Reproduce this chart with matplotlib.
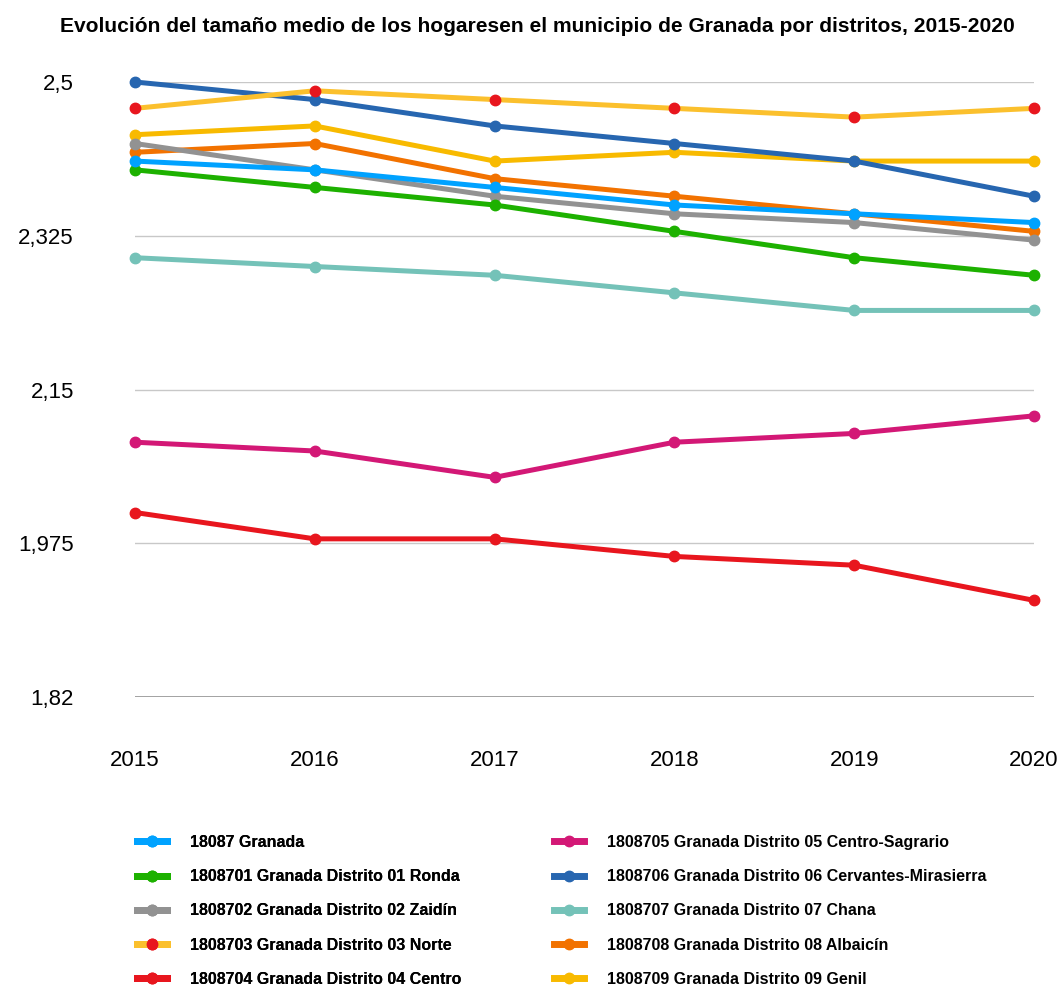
import matplotlib
matplotlib.use("Agg")
import matplotlib.pyplot as plt
from matplotlib.lines import Line2D

plt.rcParams['font.family'] = ['Liberation Sans', 'DejaVu Sans']

# datos: tamaño medio del hogar por distrito
years = [2015, 2016, 2017, 2018, 2019, 2020]

series_names = [
    "18087 Granada",
    "1808701 Granada Distrito 01 Ronda",
    "1808702 Granada Distrito 02 Zaidín",
    "1808703 Granada Distrito 03 Norte",
    "1808704 Granada Distrito 04 Centro",
    "1808705 Granada Distrito 05 Centro-Sagrario",
    "1808706 Granada Distrito 06 Cervantes-Mirasierra",
    "1808707 Granada Distrito 07 Chana",
    "1808708 Granada Distrito 08 Albaicín",
    "1808709 Granada Distrito 09 Genil",
]

granada = [2.41, 2.40, 2.38, 2.36, 2.35, 2.34]
ronda = [2.40, 2.38, 2.36, 2.33, 2.30, 2.28]
zaidin = [2.43, 2.40, 2.37, 2.35, 2.34, 2.32]
norte = [2.47, 2.49, 2.48, 2.47, 2.46, 2.47]
centro = [2.01, 1.98, 1.98, 1.96, 1.95, 1.91]
centro_sagrario = [2.09, 2.08, 2.05, 2.09, 2.10, 2.12]
cervantes = [2.50, 2.48, 2.45, 2.43, 2.41, 2.37]
chana = [2.30, 2.29, 2.28, 2.26, 2.24, 2.24]
albaicin = [2.42, 2.43, 2.39, 2.37, 2.35, 2.33]
genil = [2.44, 2.45, 2.41, 2.42, 2.41, 2.41]

y_ticks = [1.8, 1.975, 2.15, 2.325, 2.5]
y_tick_labels = ["1,82", "1,975", "2,15", "2,325", "2,5"]

# colores (linea, marcador)
line_colors = ["#00A2FF", "#1DB100", "#929292", "#FBC02D", "#E8161E",
               "#D31876", "#2766B0", "#74C2B8", "#F27200", "#F8BA00"]
marker_colors = ["#00A2FF", "#1DB100", "#929292", "#E8161E", "#E8161E",
                 "#D31876", "#2766B0", "#74C2B8", "#F27200", "#F8BA00"]

all_values = [granada, ronda, zaidin, norte, centro, centro_sagrario,
              cervantes, chana, albaicin, genil]

W, H = 1062, 989
fig = plt.figure(figsize=(W / 100, H / 100), dpi=100)
ax = fig.add_axes([135 / W, 1 - 697 / H, (1034 - 135) / W, (697 - 82) / H])

for i, vals in enumerate(all_values):
    ax.plot(years, vals, color=line_colors[i], lw=3.6, marker='o', ms=7.5,
            mfc=marker_colors[i], mec=marker_colors[i], clip_on=False,
            zorder=20 - i, solid_capstyle='round')

ax.set_xlim(2015, 2020)
ax.set_ylim(1.8, 2.5)
ax.set_yticks(y_ticks)
ax.set_yticklabels(y_tick_labels)
ax.set_xticks(years)
ax.set_xticklabels([str(y) for y in years])
ax.tick_params(axis='y', length=0, pad=44, labelsize=16)
ax.tick_params(axis='x', length=0, pad=38, labelsize=16)

for s in ax.spines.values():
    s.set_visible(False)
for yt in y_ticks[1:]:
    ax.axhline(yt, color="#C8C8C8", lw=1.0, zorder=1)
ax.axhline(y_ticks[0], color="#999999", lw=2.0, zorder=1)

fig.text(537 / W, 1 - 27 / H,
         "Evolución del tamaño medio de los hogaresen el municipio de Granada por distritos, 2015-2020",
         ha='center', va='center', fontsize=15.1, fontweight='bold')

# leyenda en dos columnas
handles = [Line2D([0], [0], color=line_colors[i], lw=5, marker='o', ms=7.5,
                  mfc=marker_colors[i], mec=marker_colors[i])
           for i in range(len(series_names))]
leg_kw = dict(frameon=False, borderpad=0, borderaxespad=0, handlelength=1.9,
              handletextpad=1.4, labelspacing=1.2,
              prop={'weight': 'bold', 'size': 11.5})
leg1 = fig.legend(handles[:5], series_names[:5], loc='upper left',
                  bbox_to_anchor=(137 / W, 1 - 835 / H), **leg_kw)
fig.add_artist(leg1)
fig.legend(handles[5:], series_names[5:], loc='upper left',
           bbox_to_anchor=(554 / W, 1 - 835 / H), **leg_kw)

fig.savefig("out.png", dpi=100)
